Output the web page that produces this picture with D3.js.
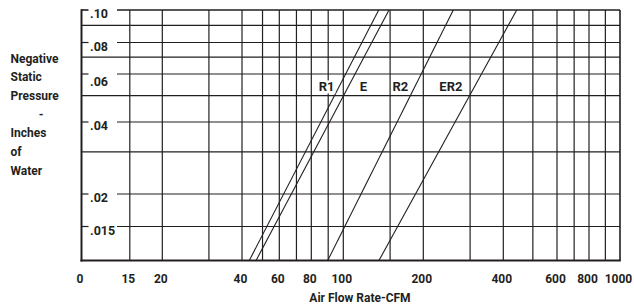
<!DOCTYPE html>
<html>
<head>
<meta charset="utf-8">
<script src="https://cdn.jsdelivr.net/npm/d3@7"></script>
<style>
body { margin: 0; background: #fff; }
text { font-family: Roboto, "Open Sans", sans-serif; font-weight: 700; fill: #231f20; }
</style>
</head>
<body>
<svg id="chart" width="634" height="305"></svg>
<script>
// x axis (CFM) - the left edge is labelled "0" on the original
var xTicks = [10, 15, 20, 40, 60, 80, 100, 200, 400, 600, 800, 1000];
var xTickLabels = ["0", "15", "20", "40", "60", "80", "100", "200", "400", "600", "800", "1000"];
var xGrid = [15, 20, 30, 40, 50, 60, 70, 80, 90, 100, 150, 200, 300, 400, 500, 600, 700, 800, 900];

// y axis (inches of water)
var yTicks = [0.01, 0.015, 0.02, 0.04, 0.06, 0.08, 0.10];
var yLabelled = [0.015, 0.02, 0.04, 0.06, 0.08, 0.10];
var yTickLabels = [".015", ".02", ".04", ".06", ".08", ".10"];
var yGrid = [0.015, 0.02, 0.03, 0.04, 0.05, 0.06, 0.07, 0.08, 0.09];

// fan curves: cfm at .01 and at .10 in. of water
var seriesNames = ["R1", "E", "R2", "ER2"];
var seriesCfm = [[43.3, 135.9], [46.6, 148.6], [89.7, 259.4], [136.2, 442.6]];
var seriesPressure = [0.01, 0.10];
var labelCfm = [89, 119, 164, 254];
var labelPressure = 0.052;

var yTitle = ["Negative", "Static", "Pressure", "-", "Inches", "of", "Water"];

var ink = "#231f20";

// the printed grid is not a true log grid, so the scales are piecewise
var x = d3.scaleLog()
    .domain(xTicks)
    .range([81.5, 129.8, 162.3, 242, 279.3, 311.3, 343.3, 423.3, 503.3, 557, 589, 620]);
var y = d3.scaleLog()
    .domain(yTicks)
    .range([260.5, 226.5, 194, 122, 74, 42.5, 10]);

var svg = d3.select("#chart");
var x0 = x(10), x1 = x(1000), yTop = y(0.10), yBot = y(0.01);
var labelGapEnd = 117;

// vertical grid
svg.append("g").selectAll("line")
    .data(xGrid)
    .enter().append("line")
    .attr("x1", function (d) { return x(d); })
    .attr("x2", function (d) { return x(d); })
    .attr("y1", yTop)
    .attr("y2", yBot)
    .attr("stroke", ink)
    .attr("stroke-width", 1.2);

// horizontal grid (labelled rows leave room for the label)
var hg = svg.append("g");
hg.selectAll("line.grid")
    .data(yGrid.concat([0.10]))
    .enter().append("line")
    .attr("class", "grid")
    .attr("x1", function (d) { return yLabelled.indexOf(d) >= 0 ? labelGapEnd : x0; })
    .attr("x2", x1)
    .attr("y1", function (d) { return y(d); })
    .attr("y2", function (d) { return y(d); })
    .attr("stroke", ink)
    .attr("stroke-width", function (d) { return d == 0.10 ? 1.6 : 1.2; });

hg.selectAll("line.stub")
    .data(yLabelled)
    .enter().append("line")
    .attr("class", "stub")
    .attr("x1", x0)
    .attr("x2", x0 + 7)
    .attr("y1", function (d) { return y(d); })
    .attr("y2", function (d) { return y(d); })
    .attr("stroke", ink)
    .attr("stroke-width", function (d) { return d == 0.10 ? 1.6 : 1.2; });

// frame
svg.append("line")
    .attr("x1", x1).attr("x2", x1)
    .attr("y1", yTop).attr("y2", yBot)
    .attr("stroke", ink).attr("stroke-width", 1.6);
svg.append("line")
    .attr("x1", x0).attr("x2", x0)
    .attr("y1", yTop - 0.8).attr("y2", yBot + 1)
    .attr("stroke", ink).attr("stroke-width", 2);
svg.append("line")
    .attr("x1", x0 - 1).attr("x2", x1 + 0.8)
    .attr("y1", yBot).attr("y2", yBot)
    .attr("stroke", ink).attr("stroke-width", 2);

// y tick labels
svg.append("g").selectAll("text")
    .data(yLabelled)
    .enter().append("text")
    .attr("x", x0 + 8.5)
    .attr("y", function (d) { return y(d) + (d == 0.06 ? 12 : 8); })
    .attr("font-size", "12.5px")
    .text(function (d, i) { return yTickLabels[i]; });

// x tick labels
svg.append("g").selectAll("text")
    .data(xTicks)
    .enter().append("text")
    .attr("x", function (d) { return x(d) - 1.5; })
    .attr("y", 282.5)
    .attr("text-anchor", "middle")
    .attr("font-size", "12px")
    .text(function (d, i) { return xTickLabels[i]; });

svg.append("text")
    .attr("x", 360)
    .attr("y", 301.5)
    .attr("text-anchor", "middle")
    .attr("font-size", "12px")
    .text("Air Flow Rate-CFM");

svg.append("g").selectAll("text")
    .data(yTitle)
    .enter().append("text")
    .attr("x", function (d) { return d == "-" ? 41 : 10.5; })
    .attr("y", function (d, i) { return 62.5 + i * 18.7; })
    .attr("text-anchor", function (d) { return d == "-" ? "middle" : "start"; })
    .attr("font-size", "12px")
    .text(function (d) { return d; });

// fan curves
var line = d3.line()
    .x(function (d) { return x(d[0]); })
    .y(function (d) { return y(d[1]); });

svg.append("g").selectAll("path")
    .data(seriesCfm)
    .enter().append("path")
    .attr("d", function (d) {
        return line(d.map(function (c, i) { return [c, seriesPressure[i]]; }));
    })
    .attr("fill", "none")
    .attr("stroke", ink)
    .attr("stroke-width", 1.1);

// curve names with a white patch behind them
var lab = svg.append("g").selectAll("g")
    .data(seriesNames)
    .enter().append("g");
lab.append("text")
    .attr("x", function (d, i) { return x(labelCfm[i]); })
    .attr("y", y(labelPressure) + 0.5)
    .attr("text-anchor", "middle")
    .attr("font-size", "13px")
    .text(function (d) { return d; });
lab.each(function () {
    var g = d3.select(this);
    var b = g.select("text").node().getBBox();
    g.insert("rect", "text")
        .attr("x", b.x - 1)
        .attr("y", b.y + 1)
        .attr("width", b.width + 2)
        .attr("height", b.height - 2)
        .attr("fill", "#fff");
});
</script>
</body>
</html>
